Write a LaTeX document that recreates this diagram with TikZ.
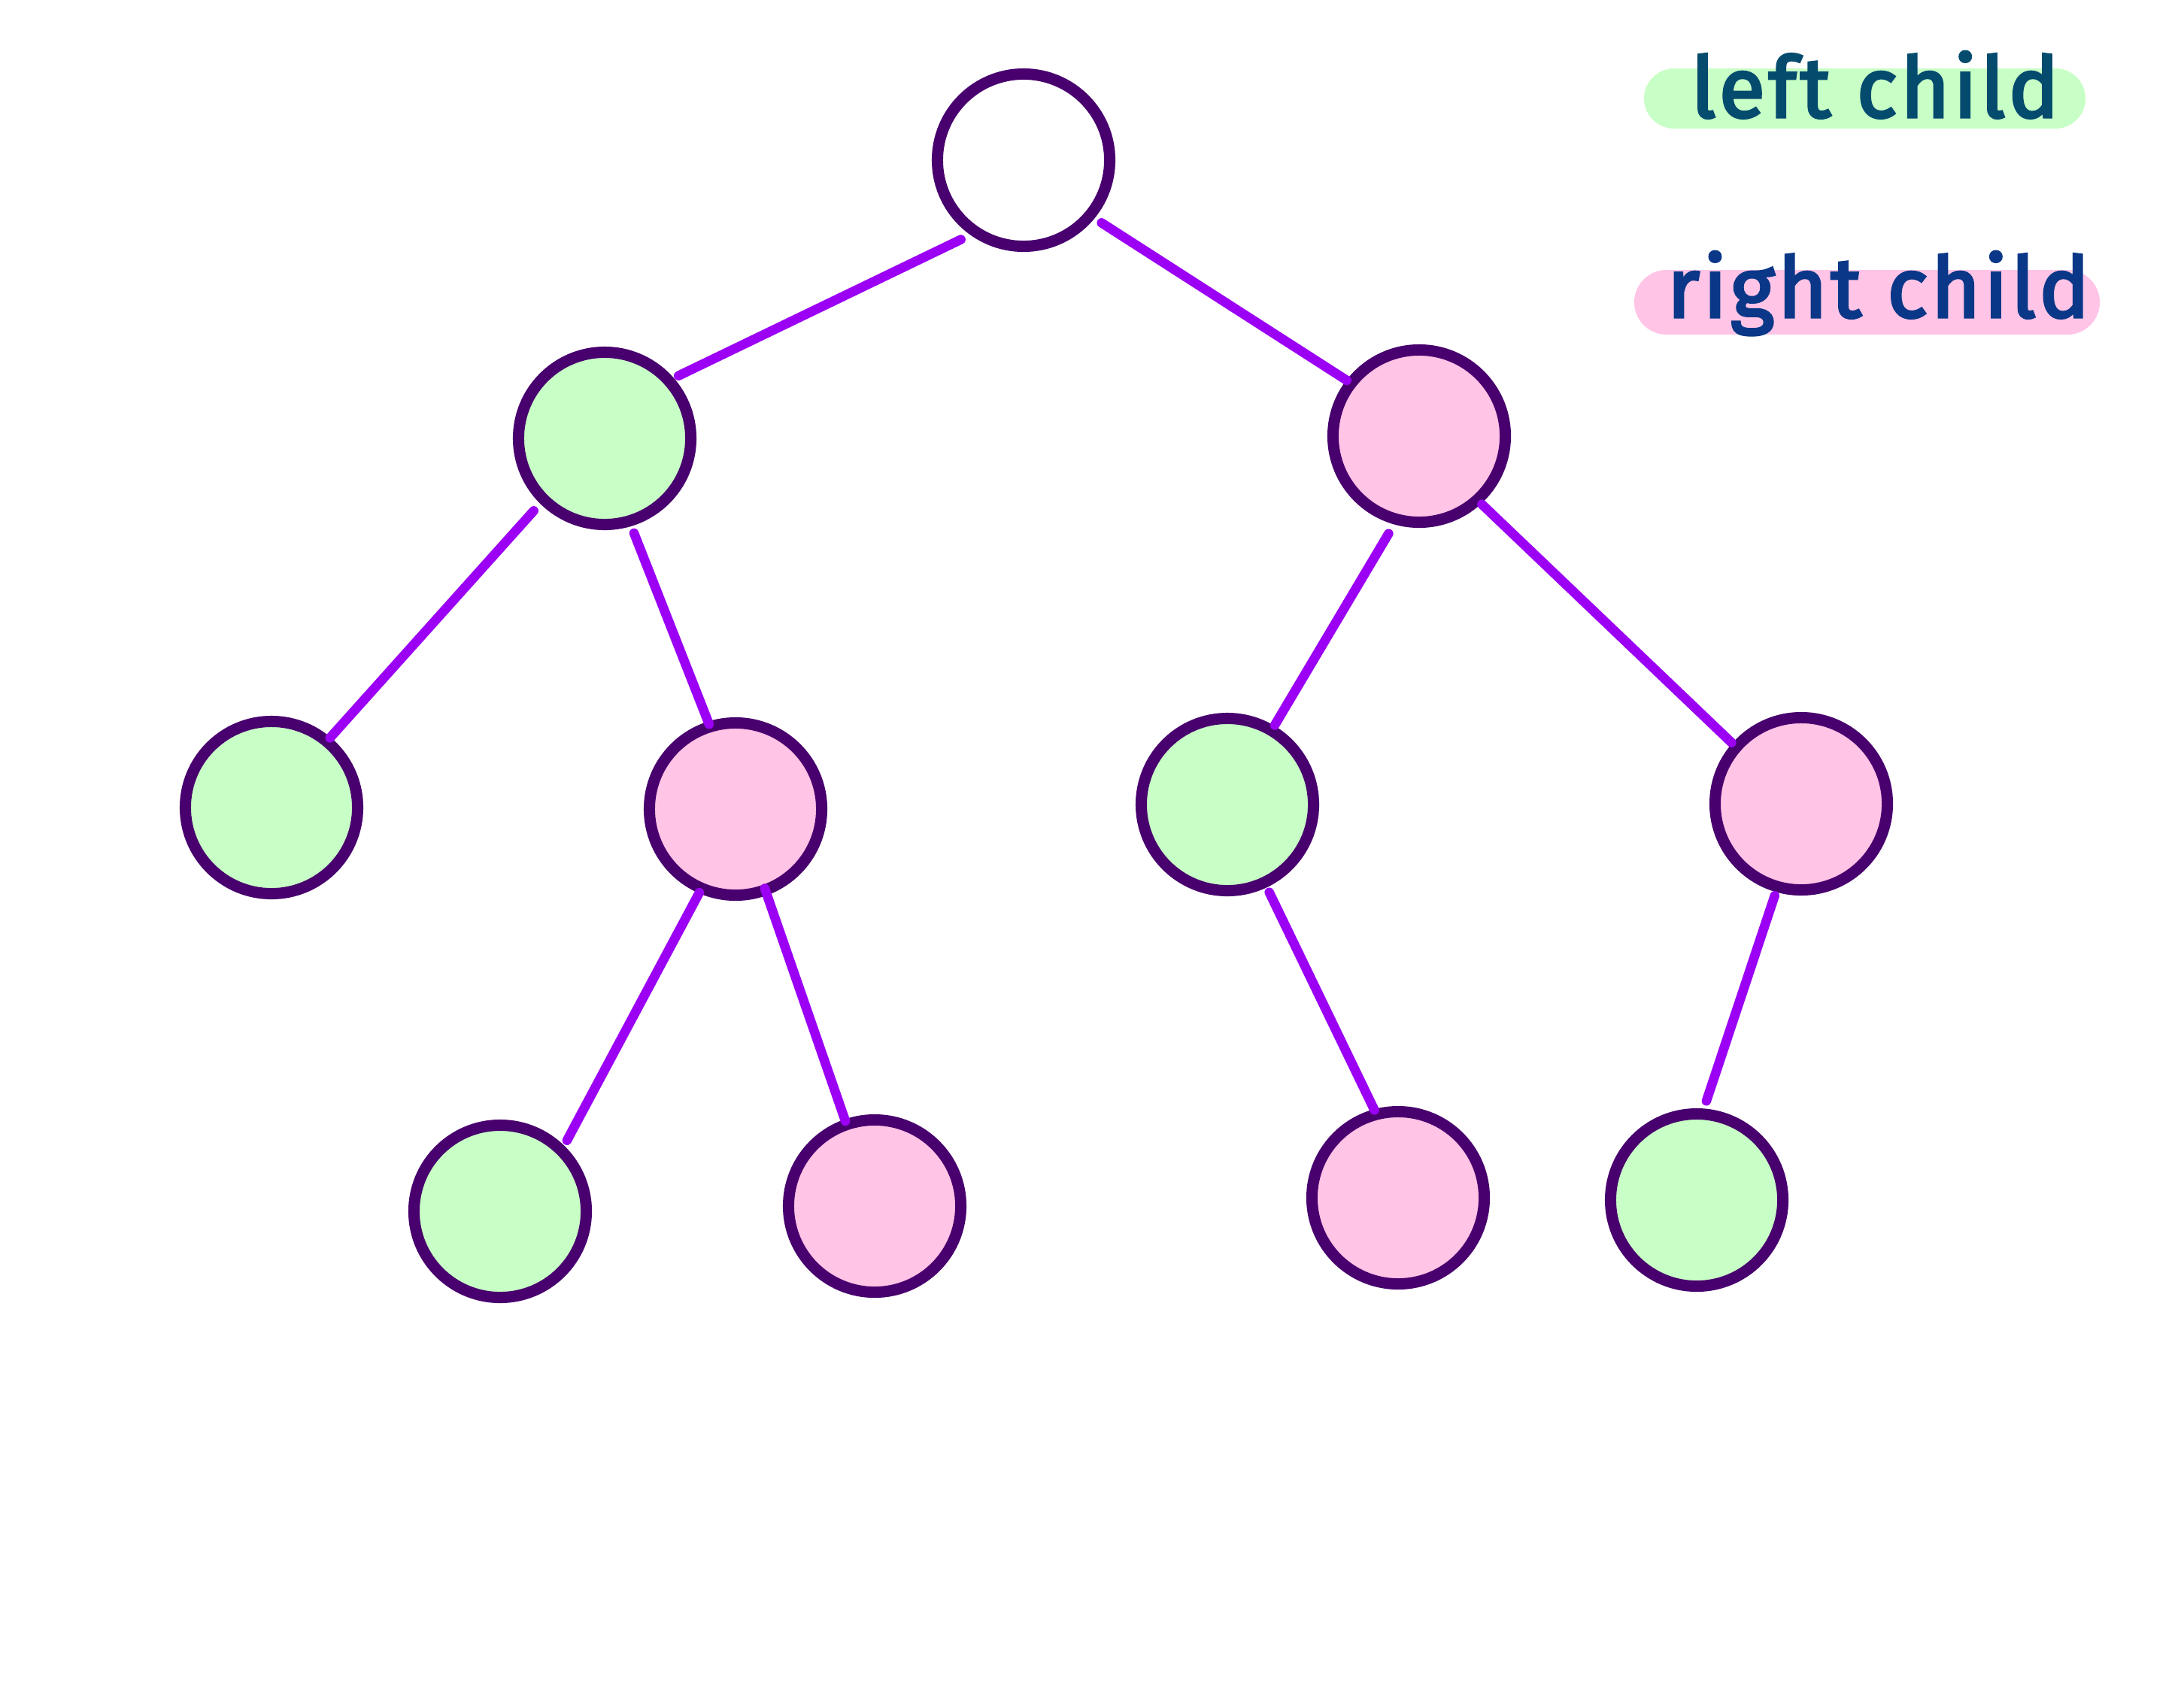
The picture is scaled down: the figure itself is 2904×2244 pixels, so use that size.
\documentclass[tikz,border=0pt]{standalone}
\usepackage{fontspec}
\setmainfont{Fira Sans}
\newfontfamily\legendfont{Fira Sans}[FakeBold=3, LetterSpace=4]
\usetikzlibrary{calc}
\definecolor{nodeline}{RGB}{72,0,110}
\definecolor{edgecol}{RGB}{155,0,245}
\definecolor{lgreen}{RGB}{200,255,198}
\definecolor{lpink}{RGB}{255,196,230}
\definecolor{txtgreen}{RGB}{5,75,110}
\definecolor{txtpink}{RGB}{10,55,135}
\tikzset{
  tnode/.style={circle, draw=nodeline, line width=0.15cm, minimum size=2.29cm, inner sep=0pt, outer sep=0pt},
  rootnode/.style={tnode, fill=white},
  lnode/.style={tnode, fill=lgreen},
  rnode/.style={tnode, fill=lpink},
  edge/.style={draw=edgecol, line width=0.125cm, line cap=round},
  hl/.style={line width=#1, line cap=round},
  legend/.style={font=\legendfont\fontsize{32}{38}\selectfont, anchor=base west, inner sep=0pt}
}
\begin{document}
\begin{tikzpicture}[x=0.01cm,y=0.01cm]
\useasboundingbox (0,0) rectangle (2904,-2244);
\fill[white] (0,0) rectangle (2904,-2244);
% nodes
\node[rootnode] (root) at (1361,-213) {};
\node[lnode] (L1) at (804,-583) {};
\node[rnode] (R1) at (1887,-580) {};
\node[lnode] (LL) at (361,-1074) {};
\node[rnode] (LR) at (978,-1076) {};
\node[lnode] (RL) at (1632,-1070) {};
\node[rnode] (RR) at (2395,-1069) {};
\node[lnode] (LRL) at (665,-1611) {};
\node[rnode] (LRR) at (1163,-1604) {};
\node[rnode] (RLR) at (1859,-1593) {};
\node[lnode] (RRL) at (2256,-1596) {};
% edges
\draw[edge] ($(root)+(231.7:134.5)$) -- ($(L1)+(40.3:128.7)$);
\draw[edge] ($(root)+(-38.8:133)$) -- ($(R1)+(142.4:121.5)$);
\draw[edge] ($(L1)+(225.6:134.8)$) -- ($(LL)+(50:121)$);
\draw[edge] ($(L1)+(-72.8:131.9)$) -- ($(LR)+(107.3:118.3)$);
\draw[edge] ($(R1)+(252.6:135.9)$) -- ($(RL)+(59.2:123)$);
\draw[edge] ($(R1)+(-47.4:123.2)$) -- ($(RR)+(138.7:123.3)$);
\draw[edge] ($(LR)+(246.6:121.1)$) -- ($(LRL)+(46.7:129.6)$);
\draw[edge] ($(LR)+(-69.8:112.4)$) -- ($(LRR)+(109:119.5)$);
\draw[edge] ($(RL)+(-64.5:129.3)$) -- ($(RLR)+(105.1:120.9)$);
\draw[edge] ($(RR)+(253.9:127.2)$) -- ($(RRL)+(84.4:132.4)$);
% legend
\draw[hl=0.8cm, lgreen] (2226,-131) -- (2733,-131);
\draw[hl=0.86cm, lpink] (2216,-402) -- (2749,-402);
\node[legend, text=txtgreen] (lefttxt) at (2248,-156) {left child};
\node[legend, text=txtpink] (righttxt) at (2216,-422) {right child};
\end{tikzpicture}
\end{document}
